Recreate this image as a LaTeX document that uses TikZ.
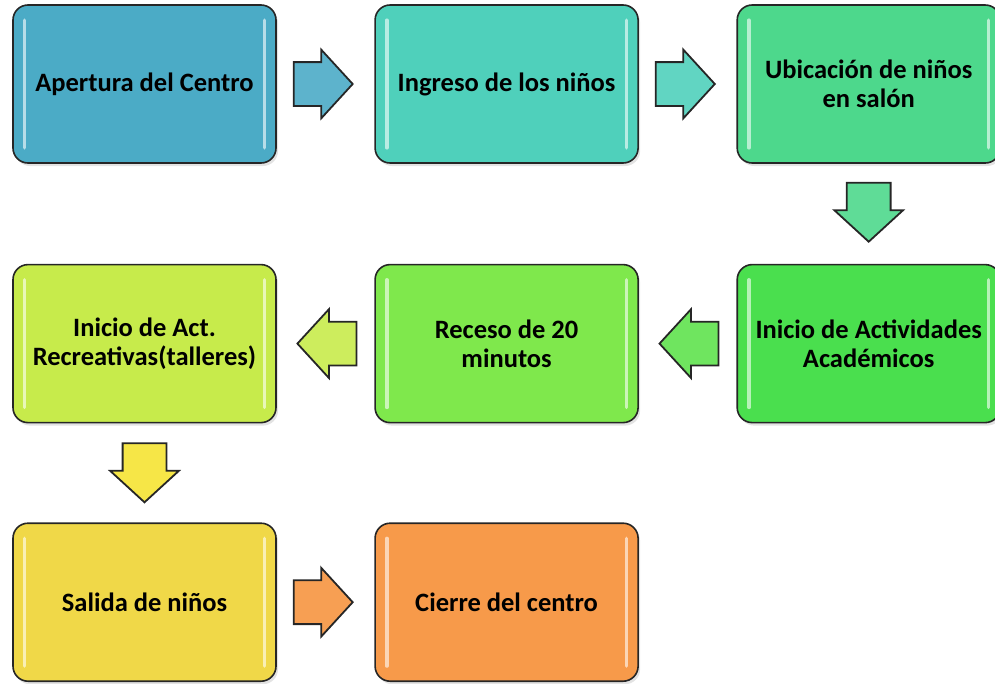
\documentclass[tikz,border=0pt]{standalone}
\usepackage{fontspec}
\setmainfont{Carlito}
\usetikzlibrary{positioning}
\usetikzlibrary{shapes.arrows}
\usetikzlibrary{shadows}
\usetikzlibrary{calc}
\definecolor{cApertura}{HTML}{4BABC6}
\definecolor{cIngreso}{HTML}{4FD0BB}
\definecolor{cUbicacion}{HTML}{4DD88C}
\definecolor{cAcademico}{HTML}{4ADF4E}
\definecolor{cReceso}{HTML}{7FE84C}
\definecolor{cTaller}{HTML}{C7EB4B}
\definecolor{cSalida}{HTML}{F0D848}
\definecolor{cCierre}{HTML}{F79A4A}

\begin{document}
\begin{tikzpicture}[x=1pt,y=1pt,
  stage/.style={draw=black!85,line width=1.6pt,rounded corners=15pt,minimum width=263pt,minimum height=158pt,
    align=center,font=\fontsize{26.5}{29}\selectfont\bfseries,
    drop shadow={opacity=0.22,shadow xshift=2pt,shadow yshift=-3pt}},
  flow/.style={single arrow,draw=black!85,line width=1.8pt,inner xsep=0pt,inner ysep=21pt,
    minimum height=59pt,single arrow head extend=12.5pt,single arrow tip angle=95,anchor=tail},
  flowdown/.style={flow,inner xsep=21pt,inner ysep=0pt,shape border rotate=270},
  hilite/.style={white,opacity=0.6,line width=3.5pt,line cap=round},
  node distance=97.5pt]
\useasboundingbox (0,0) rectangle (995,-683);
\node[stage,fill=cApertura] (b1) at (144.5,-84) {Apertura del Centro};
\node[stage,fill=cIngreso,right=of b1] (b2) {Ingreso de los niños};
\node[stage,fill=cUbicacion,right=of b2] (b3) {Ubicación de niños\\en salón};
\node[stage,fill=cAcademico,below=100pt of b3] (b4) {Inicio de Actividades\\Académicos};
\node[stage,fill=cReceso,left=of b4] (b5) {Receso de 20\\minutos};
\node[stage,fill=cTaller,left=of b5] (b6) {Inicio de Act.\\Recreativas(talleres)};
\node[stage,fill=cSalida,below=99pt of b6] (b7) {Salida de niños};
\node[stage,fill=cCierre,right=of b7] (b8) {Cierre del centro};
\foreach \n in {b1,b2,b3,b4,b5,b6,b7,b8}{
  \draw[hilite] ([xshift=12.5pt,yshift=-16pt]\n.north west) -- ([xshift=12.5pt,yshift=16pt]\n.south west);
  \draw[hilite] ([xshift=-12.5pt,yshift=-16pt]\n.north east) -- ([xshift=-12.5pt,yshift=16pt]\n.south east);
}
\node[flow,fill=cApertura!90!white] (a1) at ([xshift=16pt]b1.east) {};
\node[flow,fill=cIngreso!90!white] (a2) at ([xshift=16pt]b2.east) {};
\node[flowdown,fill=cUbicacion!90!white] (a3) at ([yshift=-18pt]b3.south) {};
\node[flow,fill=cAcademico!60!cReceso!90!white,shape border rotate=180] (a4) at ([xshift=-17pt]b4.west) {};
\node[flow,fill=cTaller!90!white,shape border rotate=180] (a5) at ([xshift=-17pt]b5.west) {};
\node[flowdown,fill=cSalida!70!yellow!90!white] (a6) at ([yshift=-19pt]b6.south) {};
\node[flow,fill=cCierre!95!white] (a7) at ([xshift=16pt]b7.east) {};
\end{tikzpicture}
\end{document}
